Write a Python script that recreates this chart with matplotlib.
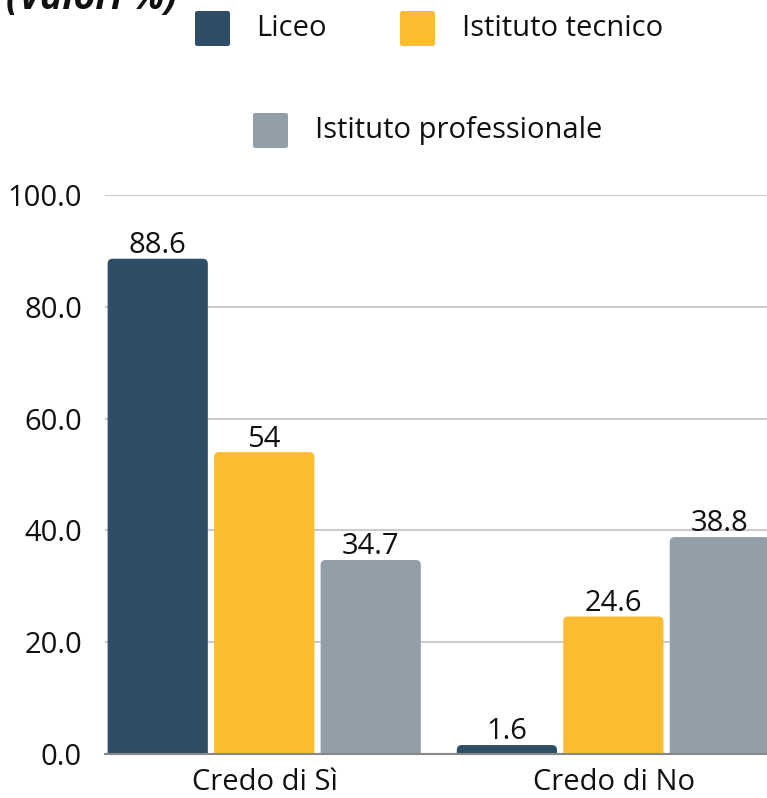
import matplotlib
matplotlib.use('Agg')
import matplotlib.pyplot as plt
from matplotlib.patches import FancyBboxPatch
import numpy as np

plt.rcParams['font.family'] = ['Open Sans', 'DejaVu Sans']

categories = ['Credo di Sì', 'Credo di No']
series_names = ['Liceo', 'Istituto tecnico', 'Istituto professionale']
liceo = [88.6, 1.6]
tecnico = [54, 24.6]
professionale = [34.7, 38.8]
value_labels = [['88.6', '1.6'], ['54', '24.6'], ['34.7', '38.8']]
y_ticks = [0, 20, 40, 60, 80, 100]
colors = ['#2e4d66', '#fbbc32', '#929fa9']

W, H = 767, 798
fig = plt.figure(figsize=(W / 100, H / 100), dpi=100)
ax = fig.add_axes([105 / W, 44 / H, 1 - 105 / W, (754 - 195) / H])

x = np.arange(len(categories))
width = 0.287
offsets = [-0.307, -0.002, 0.303]
ax.set_xlim(-0.458, 1.438)
ax.set_ylim(0, 100)

# rounded top corners: px -> data conversions
px_x = 1.896 / (W - 105)
px_y = 100 / (754 - 195)
aspect = px_y / px_x
radius = 5 * px_x

for vals, labels, off, col in zip([liceo, tecnico, professionale],
                                  value_labels, offsets, colors):
    for xi, v, lab in zip(x, vals, labels):
        left = xi + off - width / 2
        p = FancyBboxPatch((left, -5), width, v + 5,
                           boxstyle='round,pad=0,rounding_size=%f' % radius,
                           mutation_aspect=aspect, facecolor=col,
                           edgecolor='none', zorder=3)
        ax.add_patch(p)
        ax.annotate(lab, (xi + off, v), xytext=(0, -1),
                    textcoords='offset points', ha='center', va='bottom',
                    fontsize=21, color='#111111', zorder=4)

ax.set_yticks(y_ticks)
ax.set_yticklabels(['%.1f' % t for t in y_ticks], fontsize=21, color='#111111')
ax.set_xticks(x)
ax.set_xticklabels(categories, fontsize=21, color='#111111')
ax.tick_params(axis='y', length=0, pad=16.5)
ax.tick_params(axis='x', length=0, pad=10)
ax.grid(axis='y', color='#cccccc', linewidth=1.5, zorder=0)
for s in ['top', 'right', 'left']:
    ax.spines[s].set_visible(False)
ax.spines['bottom'].set_color('#888888')
ax.spines['bottom'].set_linewidth(1.5)
ax.spines['bottom'].set_zorder(5)

# title, clipped by the top edge
fig.text(6 / W, 1 - 9 / H, '(Valori %)', fontsize=27, fontweight='bold',
         fontstyle='italic', color='#111111', va='baseline', ha='left')

# legend
legend_items = [(195, 11, 256), (400, 11, 462), (253, 113, 315)]
for (sx, sy, tx), name, col in zip(legend_items, series_names, colors):
    sq = FancyBboxPatch((sx / W, 1 - (sy + 35) / H), 35 / W, 35 / H,
                        boxstyle='round,pad=0,rounding_size=0.003',
                        transform=fig.transFigure, facecolor=col,
                        edgecolor='none')
    fig.patches.append(sq)
    fig.text(tx / W, 1 - (sy + 25) / H, name, fontsize=21, color='#111111',
             va='baseline', ha='left')

plt.savefig('out.png', dpi=100)
